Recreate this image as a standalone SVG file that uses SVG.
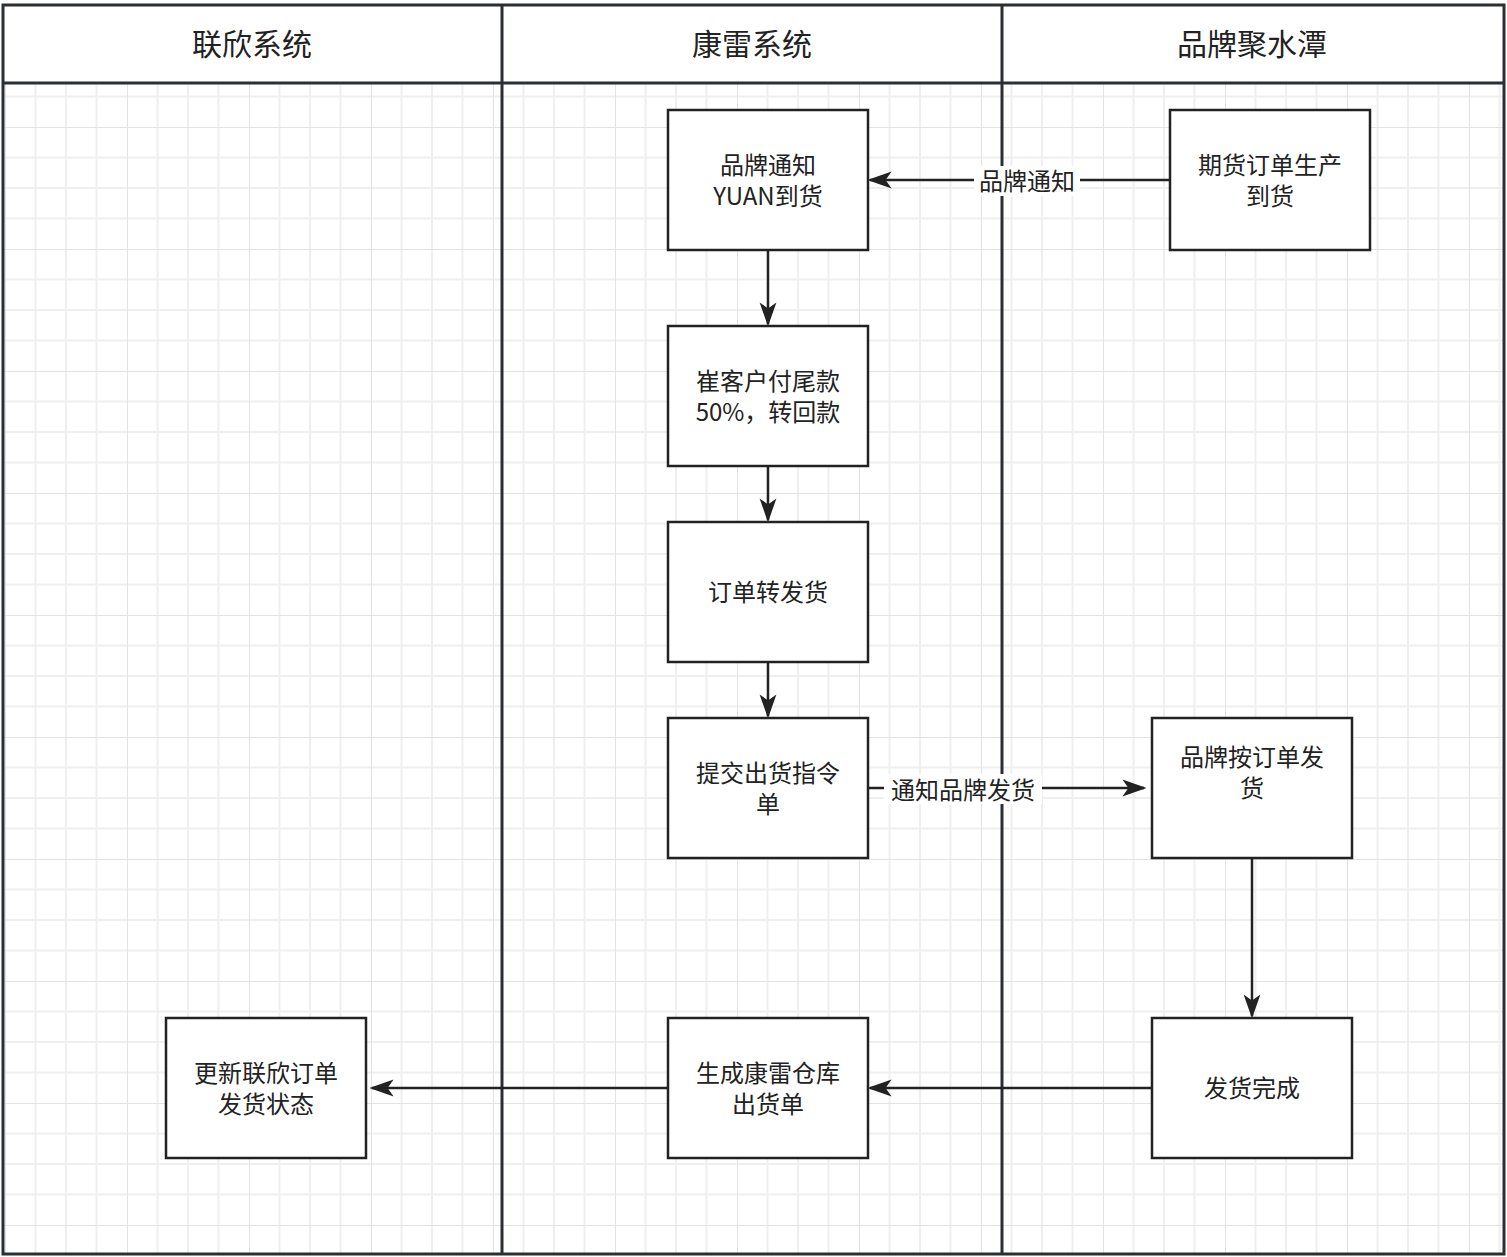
<svg xmlns="http://www.w3.org/2000/svg" width="1507" height="1257" viewBox="0 0 1507 1257">
<defs>
<pattern id="g" x="5" y="5" width="122" height="122" patternUnits="userSpaceOnUse">
<path d="M30.5 0V122M61 0V122M91.5 0V122M0 30.5H122M0 61H122M0 91.5H122" stroke="#efefef" stroke-width="2" fill="none"/>
<path d="M0 0V122M0 0H122" stroke="#e3e3e3" stroke-width="2" fill="none"/>
</pattern>
<marker id="a" viewBox="0 0 10 10" refX="9" refY="5" markerWidth="10" markerHeight="10" markerUnits="userSpaceOnUse" orient="auto"><path d="M0 0L10 5L0 10L2.5 5Z" fill="#222"/></marker>
<marker id="b" viewBox="0 0 10 10" refX="9" refY="5" markerWidth="24" markerHeight="24" markerUnits="userSpaceOnUse" orient="auto"><path d="M0 1.5L10 5L0 8.5L2.5 5Z" fill="#222"/></marker>
</defs>
<style>
.box{fill:#fff;stroke:#222;stroke-width:2.5}
.t{font-family:"Noto Sans CJK SC","Noto Sans",sans-serif;font-size:24px;fill:#222;text-anchor:middle}
.h{font-family:"Noto Sans CJK SC","Noto Sans",sans-serif;font-size:30px;fill:#222;text-anchor:middle}
.ln{stroke:#222;stroke-width:2.5;fill:none;marker-end:url(#b)}
.lab{fill:#fff}
</style>
<rect width="1507" height="1257" fill="#fff"/>
<rect x="3" y="83" width="1501" height="1171" fill="url(#g)"/>
<g id="lanes" fill="none" stroke="#2a2f36" stroke-width="3">
<rect x="3" y="5" width="1501" height="1249" fill="none"/>
<line x1="3" y1="83" x2="1504" y2="83"/>
<line x1="502" y1="5" x2="502" y2="1254"/>
<line x1="1002" y1="5" x2="1002" y2="1254"/>
</g>
<g id="headers">
<text class="h" x="252" y="55">联欣系统</text>
<text class="h" x="752" y="55">康雷系统</text>
<text class="h" x="1252" y="55">品牌聚水潭</text>
</g>
<g id="connectors">
<path class="ln" d="M1170 180H870"/>
<rect class="lab" x="974" y="166" width="106" height="30"/>
<text class="t" x="1027" y="190">品牌通知</text>
<path class="ln" d="M768 250V324"/>
<path class="ln" d="M768 466V520"/>
<path class="ln" d="M768 662V716"/>
<path class="ln" d="M868 788H1144"/>
<rect class="lab" x="884" y="774" width="158" height="30"/>
<text class="t" x="963" y="799">通知品牌发货</text>
<path class="ln" d="M1252 858V1016"/>
<path class="ln" d="M1152 1088H870"/>
<path class="ln" d="M668 1088H372"/>
</g>
<g id="n1"><rect class="box" x="668" y="110" width="200" height="140"/><text class="t" x="768" y="174">品牌通知</text><text class="t" x="768" y="205">YUAN到货</text></g>
<g id="n2"><rect class="box" x="1170" y="110" width="200" height="140"/><text class="t" x="1270" y="174">期货订单生产</text><text class="t" x="1270" y="205">到货</text></g>
<g id="n3"><rect class="box" x="668" y="326" width="200" height="140"/><text class="t" x="768" y="390">崔客户付尾款</text><text class="t" x="768" y="421">50%，转回款</text></g>
<g id="n4"><rect class="box" x="668" y="522" width="200" height="140"/><text class="t" x="768" y="601">订单转发货</text></g>
<g id="n5"><rect class="box" x="668" y="718" width="200" height="140"/><text class="t" x="768" y="782">提交出货指令</text><text class="t" x="768" y="813">单</text></g>
<g id="n6"><rect class="box" x="1152" y="718" width="200" height="140"/><text class="t" x="1252" y="766">品牌按订单发</text><text class="t" x="1252" y="797">货</text></g>
<g id="n7"><rect class="box" x="1152" y="1018" width="200" height="140"/><text class="t" x="1252" y="1097">发货完成</text></g>
<g id="n8"><rect class="box" x="668" y="1018" width="200" height="140"/><text class="t" x="768" y="1082">生成康雷仓库</text><text class="t" x="768" y="1113">出货单</text></g>
<g id="n9"><rect class="box" x="166" y="1018" width="200" height="140"/><text class="t" x="266" y="1082">更新联欣订单</text><text class="t" x="266" y="1113">发货状态</text></g>
</svg>
